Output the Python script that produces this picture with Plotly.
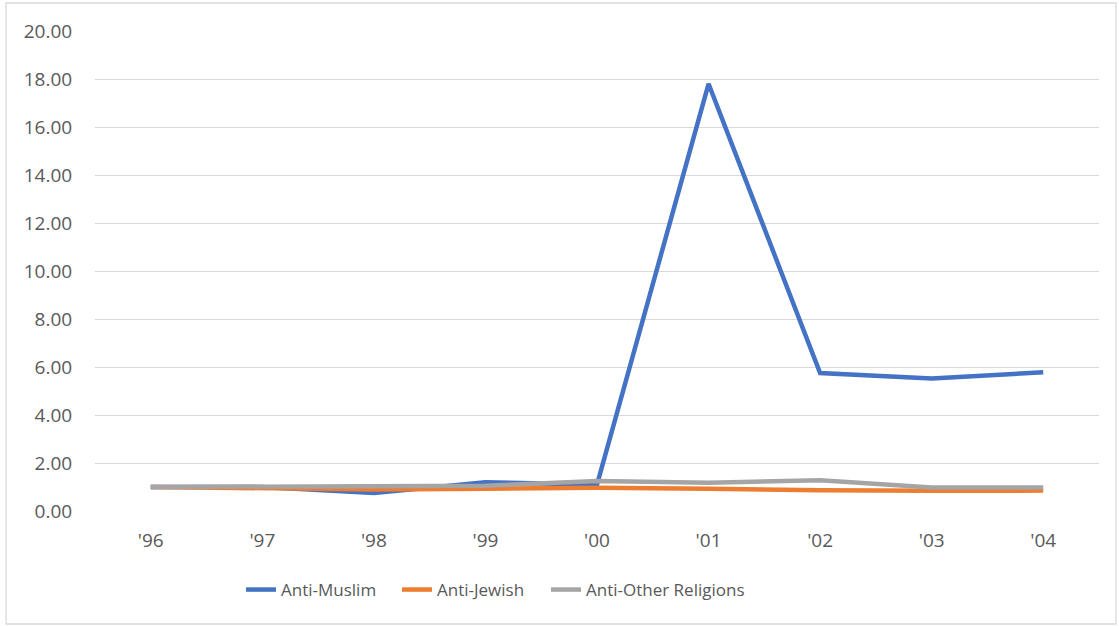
import plotly.graph_objects as go

years = ["'96", "'97", "'98", "'99", "'00", "'01", "'02", "'03", "'04"]
anti_muslim = [1.00, 1.00, 0.75, 1.20, 1.10, 17.80, 5.75, 5.52, 5.78]
anti_jewish = [1.00, 0.97, 0.90, 0.93, 0.97, 0.93, 0.86, 0.84, 0.85]
anti_other = [1.00, 1.02, 1.06, 1.05, 1.25, 1.18, 1.28, 0.98, 0.98]
y_ticks = [0, 2, 4, 6, 8, 10, 12, 14, 16, 18, 20]

series = [
    ("Anti-Muslim", anti_muslim, "#4472C4", "legend"),
    ("Anti-Jewish", anti_jewish, "#ED7D31", "legend2"),
    ("Anti-Other Religions", anti_other, "#A5A5A5", "legend3"),
]

fig = go.Figure()
for name, vals, color, leg in series:
    fig.add_trace(go.Scatter(
        x=list(range(len(years))), y=vals, name=name, mode="lines",
        line=dict(color=color, width=4.5), legend=leg,
    ))

font_family = "Open Sans, Noto Sans, sans-serif"
text_color = "#595959"
W, H = 1119, 626


def legend_at(px_left):
    return dict(
        orientation="h", xref="container", yref="container",
        x=px_left / W, xanchor="left", y=(H - 590) / H, yanchor="middle",
        font=dict(size=17, color=text_color), bgcolor="rgba(0,0,0,0)",
    )


fig.update_layout(
    width=W, height=H,
    margin=dict(l=95, r=20, t=31, b=115, autoexpand=False),
    paper_bgcolor="white", plot_bgcolor="white",
    font=dict(family=font_family, size=16, color=text_color),
    xaxis=dict(
        range=[-0.5, len(years) - 0.5],
        tickmode="array", tickvals=list(range(len(years))), ticktext=years,
        showgrid=False, zeroline=False, showline=False,
        ticks="outside", ticklen=12, tickcolor="rgba(0,0,0,0)",
        tickfont=dict(size=19, color=text_color),
    ),
    yaxis=dict(
        range=[0, 20], tickmode="array", tickvals=y_ticks,
        ticktext=[f"{v:.2f}" for v in y_ticks],
        showgrid=True, gridcolor="#D9D9D9", gridwidth=1.3,
        zeroline=False, showline=False,
        ticks="outside", ticklen=18, tickcolor="rgba(0,0,0,0)",
        tickfont=dict(size=19, color=text_color),
    ),
    legend=legend_at(241),
    legend2=legend_at(397),
    legend3=legend_at(546),
    showlegend=True,
)

# Outer chart border
fig.add_shape(
    type="rect", xref="paper", yref="paper",
    x0=-0.0886, x1=1.0169, y0=-0.2354, y1=1.0583,
    line=dict(color="#D9D9D9", width=1.3), fillcolor="rgba(0,0,0,0)", layer="below",
)

fig.write_html("out.html")
